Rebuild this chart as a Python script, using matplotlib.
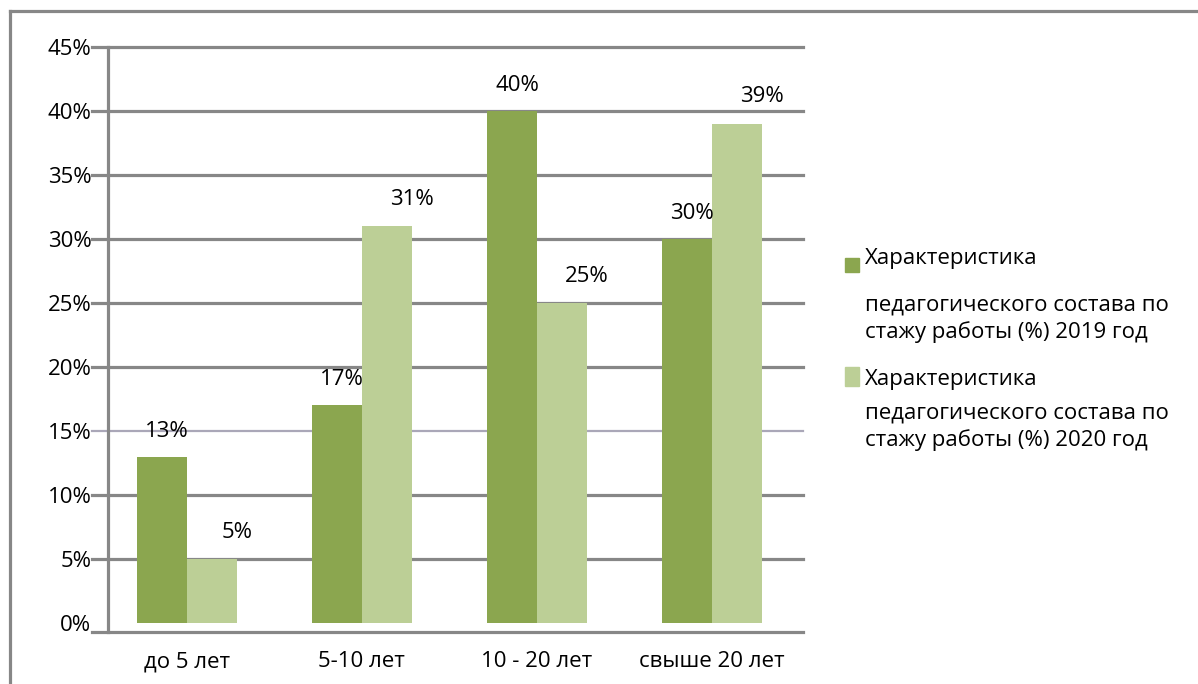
import numpy as np
import matplotlib
matplotlib.use('Agg')
import matplotlib.pyplot as plt
from matplotlib.patches import Rectangle
from matplotlib.lines import Line2D

plt.rcParams['font.family'] = ['Open Sans', 'DejaVu Sans']

categories = ['до 5 лет', '5-10 лет', '10 - 20 лет', 'свыше 20 лет']
values_2019 = [13, 17, 40, 30]
values_2020 = [5, 31, 25, 39]
series_labels = [
    ['Характеристика', 'педагогического состава по', 'стажу работы (%) 2019 год'],
    ['Характеристика', 'педагогического состава по', 'стажу работы (%) 2020 год'],
]
yticks = [0, 5, 10, 15, 20, 25, 30, 35, 40, 45]

c_dark = '#8ba64f'
c_light = '#bccf96'
c_grid = '#878787'
fs = 16

fig = plt.figure(figsize=(11.98, 6.84), dpi=100)
ax = fig.add_axes([108 / 1198, 52 / 684, 695 / 1198, 585 / 684])

x = np.arange(len(categories))
w = 0.285
ax.bar(x - w / 2, values_2019, w, color=c_dark, zorder=3)
ax.bar(x + w / 2, values_2020, w, color=c_light, zorder=3)

ax.set_xlim(-0.45, 3.52)
ax.set_ylim(-0.7, 45)

# сетка, заходит влево за ось как засечка
for t in yticks[1:]:
    col, lw = (c_grid, 2.3) if t != 15 else ('#aaa7b8', 1.6)
    ax.add_line(Line2D([-0.023, 1], [t, t], transform=ax.get_yaxis_transform(),
                       color=col, lw=lw, clip_on=False, zorder=2))
ax.add_line(Line2D([-0.023, 1], [-0.7, -0.7], transform=ax.get_yaxis_transform(),
                   color=c_grid, lw=2.3, clip_on=False, zorder=4))

for s in ['top', 'right', 'bottom']:
    ax.spines[s].set_visible(False)
ax.spines['left'].set_color(c_grid)
ax.spines['left'].set_linewidth(2.3)

ax.set_yticks(yticks)
ax.set_yticklabels([f'{t}%' for t in yticks], fontsize=fs)
ax.set_xticks(x)
ax.set_xticklabels(categories, fontsize=fs)
ax.tick_params(axis='y', length=0, pad=12)
ax.tick_params(axis='x', length=0, pad=14)

for i in range(len(categories)):
    ax.text(x[i] - w / 2 + 0.03, values_2019[i] + 2.0, f'{values_2019[i]}%',
            ha='center', va='center', fontsize=fs, zorder=5)
    ax.text(x[i] + w, values_2020[i] + 2.1, f'{values_2020[i]}%',
            ha='center', va='center', fontsize=fs, zorder=5)

# рамка сверху и слева
fig.add_artist(Line2D([10 / 1198, 10 / 1198], [0, 1 - 11 / 684], color=c_grid, lw=2.3))
fig.add_artist(Line2D([10 / 1198, 1], [1 - 11 / 684, 1 - 11 / 684], color=c_grid, lw=2.3))

# легенда
W, H = 1198, 684
fig.add_artist(Rectangle((845 / W, 1 - 272 / H), 14 / W, 14 / H, color=c_dark))
fig.add_artist(Rectangle((845 / W, 1 - 386 / H), 14 / W, 19 / H, color=c_light))
line_y = [[258, 305, 332], [380, 413, 440]]
for lab, ys in zip(series_labels, line_y):
    for txt, yy in zip(lab, ys):
        fig.text(865 / W, 1 - yy / H, txt, fontsize=fs, va='center', ha='left')

fig.savefig('out.png', dpi=100)
